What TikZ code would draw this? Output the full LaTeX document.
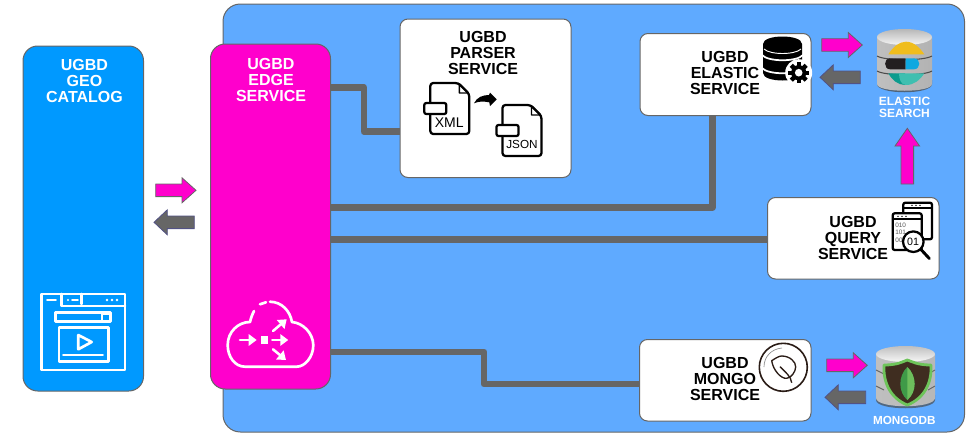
\documentclass[tikz,border=0pt]{standalone}
\usepackage{fontspec}
\setmainfont{Liberation Sans}
\usetikzlibrary{arrows.meta}
\definecolor{bgblue}{HTML}{5FAAFF}
\definecolor{catblue}{HTML}{0099FF}
\definecolor{edgepink}{HTML}{FF00CC}
\definecolor{wiregray}{HTML}{666666}
\definecolor{leafdark}{HTML}{2A1C16}
\definecolor{esyellow}{HTML}{F0BD1C}
\definecolor{esblack}{HTML}{231F20}
\definecolor{esblue}{HTML}{0FA8E0}
\definecolor{esteal}{HTML}{0B9C8E}
\definecolor{eslight}{HTML}{3FBFB0}
\definecolor{shieldbrown}{HTML}{3F2D20}
\definecolor{shieldgreen}{HTML}{6EC45A}
\definecolor{leafa}{HTML}{3F9A48}
\definecolor{leafb}{HTML}{6DBE5C}
\tikzset{
  x=0.75pt,y=-0.75pt,
  pxsize/.style 2 args={minimum width=#1*0.75pt,minimum height=#2*0.75pt,inner sep=0pt,outer sep=0pt,rectangle},
  panel/.style={draw=wiregray,line width=0.75pt,rounded corners=#1},
  panel/.default=7pt,
  whitebox/.style={panel=6pt,fill=white},
  bigtext/.style={font=\bfseries\fontsize{12}{12}\selectfont,align=center,inner sep=0pt,text=black},
  smalltext/.style={font=\bfseries\fontsize{9}{9}\selectfont,align=center,inner sep=0pt,text=white},
  wire/.style={draw=wiregray,line width=5pt,line join=round},
  inkline/.style={draw=black,line width=1.7pt,line join=round,line cap=round},
  wline/.style={draw=white,line width=2pt,line join=round,line cap=round},
  pinkarrow/.style={fill=edgepink,draw=wiregray,line width=0.6pt,line join=miter},
  grayarrow/.style={fill=wiregray,draw=wiregray!80!blue,line width=0.6pt,line join=miter},
}
% #1 style, #2 tail x, #3 head-base x, #4 tip x, #5 centre y
\newcommand\hblock[5]{\path[#1] (#2,#5-6.3) -- (#3,#5-6.3) -- (#3,#5-12.5) -- (#4,#5) -- (#3,#5+12.5) -- (#3,#5+6.3) -- (#2,#5+6.3) -- cycle;}
% #1 x, #2 y, #3 node name, #4 label, #5 font size, #6 label x, #7 label y
\newcommand\fileicon[7]{%
  \begin{scope}[shift={(#1,#2)}]
    \path[inkline,fill=white,rounded corners=2.2pt] (0,0) -- (28,0) -- (39,11) -- (39,51) -- (0,51) -- cycle;
    \path[inkline,line width=1.1pt] (29,1) -- (29,10) -- (38,10) -- cycle;
    \path[inkline,fill=white,rounded corners=1.5pt] (-6,20) rectangle (16,31);
    \node[inner sep=0pt,font=\fontsize{#5}{#5}\selectfont] (#3) at (#6,#7) {#4};
  \end{scope}}
\begin{document}
\begin{tikzpicture}
\useasboundingbox (0,0) rectangle (972,443);
% main panel
\node[pxsize={741.5}{428},panel=13pt,fill=bgblue] (back) at (593.75,218) {};
% service boxes
\node[pxsize={120.5}{345},panel=11pt,fill=catblue] (catalog) at (83.25,218.5) {};
\node[pxsize={120}{345},panel=11pt,fill=edgepink] (edge) at (270.5,216.5) {};
\node[pxsize={171}{158.5},whitebox] (parser) at (485.5,98.25) {};
\node[pxsize={171}{82},whitebox] (elastic) at (725.5,74.5) {};
\node[pxsize={171.5}{81.5},whitebox] (query) at (853.25,238.25) {};
\node[pxsize={171.5}{81.5},whitebox] (mongo) at (725.25,380.25) {};
% labels
\node[bigtext,text=white] (catalogtext) at (84.5,81) {UGBD\\GEO\\CATALOG};
\node[bigtext,text=white] (edgetext) at (271,80) {UGBD\\EDGE\\SERVICE};
\node[bigtext] (parsertext) at (483,53) {UGBD\\PARSER\\SERVICE};
\node[bigtext] (elastictext) at (725,73) {UGBD\\ELASTIC\\SERVICE};
\node[bigtext] (querytext) at (853,238) {UGBD\\QUERY\\SERVICE};
\node[bigtext] (mongotext) at (725,379) {UGBD\\MONGO\\SERVICE};
\node[smalltext] (estext) at (904.5,107.5) {ELASTIC\\SEARCH};
\node[smalltext,font=\bfseries\fontsize{8.8}{9}\selectfont] (mdbtext) at (904.3,420.5) {MONGODB};
% connectors
\coordinate (w1a) at (364,87.5);
\coordinate (w1b) at (364,131.5);
\draw[wire] (edge.east |- w1a) -- (w1a) -- (w1b) -- (parser.west |- w1b);
\coordinate (w2a) at (712.5,207.5);
\draw[wire] (edge.east |- w2a) -- (w2a) -- (w2a |- elastic.south);
\coordinate (w3a) at (767,239.5);
\draw[wire] (edge.east |- w3a) -- (query.west |- w3a);
\coordinate (w4a) at (484,352);
\coordinate (w4b) at (484,384);
\draw[wire] (edge.east |- w4a) -- (w4a) -- (w4b) -- (mongo.west |- w4b);
% block arrows
\hblock{pinkarrow}{155.7}{182}{196}{190.3}
\hblock{grayarrow}{194.3}{167.3}{154}{222.3}
\hblock{pinkarrow}{821.7}{848.3}{862.3}{45}
\hblock{grayarrow}{860.3}{833.3}{820}{77.3}
\hblock{pinkarrow}{826.7}{853.3}{867.3}{365.3}
\hblock{grayarrow}{865.7}{838.3}{825}{397.3}
\path[pinkarrow] (901,184) -- (901,146) -- (895,146) -- (907.3,128.3) -- (919.6,146) -- (913.6,146) -- (913.6,184) -- cycle;
% file icons
\fileicon{430.3}{83}{xmllabel}{XML}{10.5}{19}{40}
\fileicon{502.5}{105}{jsonlabel}{JSON}{8.8}{19.5}{39.5}
\fill[black] (474,103.3) .. controls (477,97) and (483,95) .. (489,95) -- (490,92.7) -- (496.7,99.3) -- (490,106) -- (489.3,102.3) .. controls (483,101) and (478,101.5) .. (474,103.3) -- cycle;
% database + gear icon
\fill[black] (763,44) .. controls (763,34) and (802,34) .. (802,44) -- (802,73) .. controls (802,83) and (763,83) .. (763,73) -- cycle;
\draw[white,line width=0.7pt] (764,49) .. controls (770,55) and (795,55) .. (801,49);
\draw[white,line width=1.3pt] (762,55) .. controls (768,62) and (797,62) .. (803,55);
\draw[white,line width=1.3pt] (762,68) .. controls (768,75) and (797,75) .. (803,68);
\fill[white] (798.7,72.7) circle[radius=13.5];
\foreach \a in {0,45,...,135}{
  \fill[black,rotate around={\a:(798.7,72.7)}] (796.5,62.2) rectangle (800.9,83.2);
}
\fill[black] (798.7,72.7) circle[radius=7.6];
\fill[white] (798.7,72.7) circle[radius=3.8];
% elasticsearch cylinder
\fill[black!70,opacity=0.75] (877,84) .. controls (877,95) and (932,95) .. (932,84) -- (932,80) -- (877,80) -- cycle;
\shade[left color=black!25,middle color=white,right color=black!30] (877,37) -- (932,37) -- (932,84) .. controls (932,93) and (877,93) .. (877,84) -- cycle;
\shade[top color=black!28,bottom color=black!4] (904.5,37) ellipse[x radius=27.5,y radius=8];
\draw[black!70,line width=0.8pt] (877,56) .. controls (885,61) and (924,61) .. (932,56);
\draw[black!70,line width=0.8pt] (877,71) .. controls (885,76) and (924,76) .. (932,71);
\fill[esyellow] (888.3,54.3) .. controls (893,47) and (899,41.7) .. (906,41.7) .. controls (914,41.7) and (920,48) .. (924.3,54.3) -- cycle;
\fill[esblack] (890,58.3) -- (905.7,58.3) -- (905.7,69.3) -- (890,69.3) .. controls (883.5,69.3) and (883.5,58.3) .. (890,58.3) -- cycle;
\fill[esblue] (905.7,58.3) -- (914,58.3) .. controls (921,58.3) and (921,69.3) .. (914,69.3) -- (905.7,69.3) -- cycle;
\fill[esteal] (888.3,73.3) -- (905,73.3) -- (905,85) .. controls (898,85) and (892,80) .. (888.3,73.3) -- cycle;
\fill[eslight] (899,73.3) -- (924.3,73.3) .. controls (920,80) and (914,85) .. (906,85) .. controls (901,85) and (899,79) .. (899,73.3) -- cycle;
% mongodb cylinder
\fill[black!70,opacity=0.7] (876,400) .. controls (876,411) and (935,411) .. (935,400) -- (935,395) -- (876,395) -- cycle;
\shade[left color=black!25,middle color=white,right color=black!28] (876,354) -- (935,354) -- (935,398) .. controls (935,409) and (876,409) .. (876,398) -- cycle;
\shade[top color=black!25,bottom color=black!3] (905.5,354) ellipse[x radius=29.5,y radius=8];
\draw[black!60,line width=0.7pt] (876,370) -- (884,374);
\draw[black!60,line width=0.7pt] (935,370) -- (928,374);
\draw[black!60,line width=0.7pt] (876,386) -- (884,390);
\draw[black!60,line width=0.7pt] (935,386) -- (928,390);
\path[fill=shieldbrown,draw=shieldgreen,line width=2.1pt,line join=round] (884,365) .. controls (897,365) and (902,362) .. (907.3,360) .. controls (913,362) and (918,365) .. (931,365) .. controls (932,382) and (925,398) .. (907.3,405) .. controls (890,398) and (883,382) .. (884,365) -- cycle;
\fill[leafa] (907.3,367) .. controls (917,376) and (917,392) .. (907.3,400) .. controls (898,392) and (898,376) .. (907.3,367) -- cycle;
\fill[leafb] (907.3,367) .. controls (917,376) and (917,392) .. (907.3,400) -- cycle;
% query icon
\path[inkline,fill=white,rounded corners=1.5pt] (903.3,202.7) rectangle (932,239.3);
\draw[inkline,line width=1.3pt] (903.3,208) -- (932,208);
\foreach \dx in {0,4,8}{\fill[black] (912+\dx,205.4) circle[radius=0.8];}
\path[inkline,fill=white,rounded corners=1.5pt] (892.7,213.3) rectangle (921.7,250);
\draw[inkline,line width=1.3pt] (892.7,219.3) -- (921.7,219.3);
\foreach \dx in {0,4,8}{\fill[black] (898+\dx,216.4) circle[radius=0.8];}
\node[inner sep=0pt,text=black!65,font=\fontsize{4.8}{5}\selectfont] (bin1) at (900.7,225) {010};
\node[inner sep=0pt,text=black!65,font=\fontsize{4.8}{5}\selectfont] (bin2) at (900.7,232.5) {101};
\node[inner sep=0pt,text=black!65,font=\fontsize{4.8}{5}\selectfont] (bin3) at (899,240) {00};
\path[inkline,fill=white] (913.3,241.7) circle[radius=10.3];
\draw[inkline,line width=2.2pt] (921,249.5) -- (929.3,258.5);
\node[inner sep=0pt,font=\fontsize{8}{8}\selectfont] (bin4) at (913,242) {01};
% mongo service icon
\draw[leafdark,line width=1.2pt] (783.3,367.3) circle[radius=24];
\draw[black!45,line width=0.5pt] (764,367) .. controls (764,357) and (771,349) .. (782,348);
\draw[leafdark,line width=1pt,line join=round] (771.7,360.7) .. controls (776,358) and (779,356) .. (781.7,356) .. controls (790,356) and (796,362) .. (795.7,367) .. controls (795.5,372) and (791,378) .. (786.7,378.3) .. controls (781,379) and (773,370) .. (771.7,360.7) -- cycle;
\draw[leafdark,line width=1pt] (780,366.7) .. controls (785,372) and (791,376) .. (791.7,382.7);
% browser icon
\draw[wline] (41.7,294) rectangle (125,370);
\draw[wline] (61.7,294) -- (61.7,306) -- (125,306);
\draw[wline] (81.7,294) -- (81.7,304);
\draw[wline,line width=1.4pt] (47,300) -- (56,300);
\draw[wline,line width=1.4pt] (72,300) -- (78,300);
\fill[white] (68,300) circle[radius=1.2];
\foreach \dx in {107,112,117}{\fill[white] (\dx,300) circle[radius=1.3];}
\draw[wline] (55.7,312.3) rectangle (110.7,321.7);
\fill[white] (101,312.3) rectangle (110.7,321.7);
\fill[catblue] (103,314.5) rectangle (108.5,319.5);
\draw[wline] (59,327.7) rectangle (108.3,361.7);
\draw[wline] (78.3,335) -- (78.3,349.3) -- (91.7,342) -- cycle;
\draw[wline] (63.3,355) -- (102.7,355);
% cloud icon
\draw[wline] (254,311) .. controls (252,315) and (251,318) .. (250,322) .. controls (238,322) and (227.7,332) .. (227.7,345) .. controls (227.7,357) and (235,366.7) .. (245,366.7) -- (296.7,366.7) .. controls (305,366.7) and (313.3,357) .. (313.3,345) .. controls (313,333) and (303,323) .. (292,322) .. controls (290,311) and (282,302) .. (270,301.7);
\draw[wline] (260,304.3) -- (266,302.3);
\fill[white] (260.5,336) rectangle (268,343.5);
\draw[wline,line width=1.9pt,-{Triangle[length=6pt,width=8.5pt]}] (240,340) -- (256.7,340);
\draw[wline,line width=1.9pt,-{Triangle[length=6pt,width=8.5pt]}] (272.3,340) -- (288.3,340);
\draw[wline,line width=1.9pt,-{Triangle[length=6pt,width=8.5pt]}] (273,331) -- (286.7,319.3);
\draw[wline,line width=1.9pt,-{Triangle[length=6pt,width=8.5pt]}] (273,349.3) -- (286,360);
\end{tikzpicture}
\end{document}
